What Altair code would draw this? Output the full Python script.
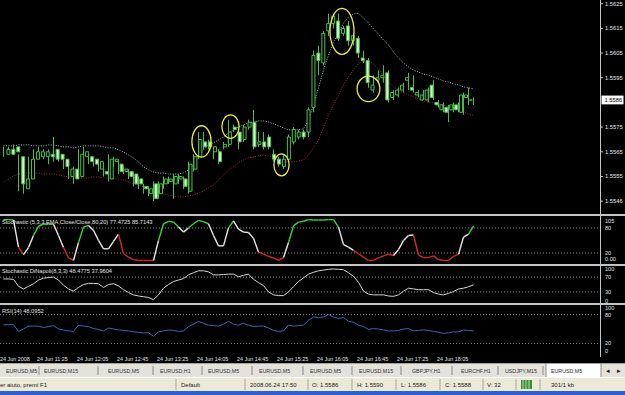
import altair as alt
import pandas as pd

# ---------------- data ----------------
OPEN = [
    1.5564, 1.5566, 1.5567, 1.5563, 1.5550, 1.5554, 1.5562, 1.5563, 1.5563, 1.5564,
    1.5566, 1.5564, 1.5562, 1.5555, 1.5558, 1.5555, 1.5563, 1.5563, 1.5562, 1.5558,
    1.5557, 1.5554, 1.5561, 1.5560, 1.5557, 1.5557, 1.5556, 1.5554, 1.5551, 1.5548,
    1.5552, 1.5548, 1.5552, 1.5553, 1.5552, 1.5554, 1.5554, 1.5549, 1.5558, 1.5563,
    1.5569, 1.5569, 1.5565, 1.5565, 1.5567, 1.5568, 1.5575, 1.5573, 1.5570, 1.5575,
    1.5577, 1.5568, 1.5569, 1.5571, 1.5564, 1.5562, 1.5559, 1.5562, 1.5569, 1.5571,
    1.5573, 1.5573, 1.5583, 1.5605, 1.5601, 1.5614, 1.5617, 1.5618, 1.5613, 1.5616,
    1.5610, 1.5611, 1.5603, 1.5602, 1.5590, 1.5594, 1.5595, 1.5597, 1.5587, 1.5588,
    1.5590, 1.5594, 1.5591, 1.5588, 1.5586, 1.5586, 1.5592, 1.5585, 1.5582, 1.5583,
    1.5582, 1.5584, 1.5581, 1.5587, 1.5586]
HIGH = [
    1.5567, 1.5567, 1.5568, 1.5564, 1.5555, 1.5563, 1.5566, 1.5567, 1.5566, 1.5566,
    1.5571, 1.5566, 1.5563, 1.5559, 1.5559, 1.5566, 1.5567, 1.5564, 1.5563, 1.5562,
    1.5558, 1.5564, 1.5563, 1.5562, 1.5559, 1.5558, 1.5557, 1.5555, 1.5552, 1.5551,
    1.5553, 1.5553, 1.5555, 1.5555, 1.5556, 1.5556, 1.5555, 1.5561, 1.5564, 1.5573,
    1.5573, 1.5570, 1.5567, 1.5566, 1.5569, 1.5578, 1.5576, 1.5574, 1.5576, 1.5578,
    1.5582, 1.5573, 1.5573, 1.5572, 1.5566, 1.5563, 1.5564, 1.5572, 1.5575, 1.5574,
    1.5574, 1.5583, 1.5606, 1.5608, 1.5614, 1.5621, 1.5621, 1.5621, 1.5616, 1.5618,
    1.5613, 1.5612, 1.5606, 1.5603, 1.5596, 1.5598, 1.5600, 1.5598, 1.5590, 1.5591,
    1.5593, 1.5597, 1.5596, 1.5590, 1.5590, 1.5591, 1.5594, 1.5586, 1.5585, 1.5584,
    1.5585, 1.5585, 1.5589, 1.5591, 1.5587]
LOW = [
    1.5563, 1.5564, 1.5564, 1.5549, 1.5548, 1.5553, 1.5561, 1.5562, 1.5562, 1.5560,
    1.5561, 1.5561, 1.5558, 1.5554, 1.5552, 1.5554, 1.5562, 1.5560, 1.5559, 1.5557,
    1.5555, 1.5553, 1.5559, 1.5556, 1.5556, 1.5554, 1.5551, 1.5550, 1.5548, 1.5547,
    1.5545, 1.5546, 1.5550, 1.5552, 1.5546, 1.5552, 1.5550, 1.5548, 1.5557, 1.5562,
    1.5566, 1.5566, 1.5562, 1.5560, 1.5566, 1.5567, 1.5573, 1.5566, 1.5569, 1.5574,
    1.5566, 1.5567, 1.5566, 1.5566, 1.5561, 1.5559, 1.5558, 1.5561, 1.5568, 1.5570,
    1.5570, 1.5571, 1.5581, 1.5596, 1.5600, 1.5612, 1.5615, 1.5610, 1.5612, 1.5608,
    1.5608, 1.5603, 1.5601, 1.5591, 1.5589, 1.5593, 1.5593, 1.5585, 1.5586, 1.5587,
    1.5589, 1.5590, 1.5589, 1.5587, 1.5586, 1.5585, 1.5586, 1.5583, 1.5581, 1.5577,
    1.5581, 1.5581, 1.5580, 1.5584, 1.5584]
CLOSE = [
    1.5566, 1.5564, 1.5565, 1.5552, 1.5554, 1.5562, 1.5565, 1.5565, 1.5565, 1.5563,
    1.5562, 1.5562, 1.5559, 1.5558, 1.5554, 1.5564, 1.5565, 1.5561, 1.5560, 1.5561,
    1.5556, 1.5562, 1.5562, 1.5557, 1.5558, 1.5555, 1.5552, 1.5552, 1.5550, 1.5550,
    1.5546, 1.5552, 1.5554, 1.5554, 1.5555, 1.5555, 1.5551, 1.5560, 1.5563, 1.5570,
    1.5567, 1.5567, 1.5567, 1.5561, 1.5568, 1.5573, 1.5574, 1.5569, 1.5575, 1.5577,
    1.5567, 1.5569, 1.5567, 1.5567, 1.5562, 1.5560, 1.5562, 1.5571, 1.5574, 1.5573,
    1.5571, 1.5582, 1.5604, 1.5602, 1.5613, 1.5617, 1.5620, 1.5611, 1.5615, 1.5610,
    1.5612, 1.5605, 1.5602, 1.5593, 1.5592, 1.5595, 1.5596, 1.5586, 1.5589, 1.5590,
    1.5592, 1.5595, 1.5590, 1.5589, 1.5588, 1.5590, 1.5587, 1.5584, 1.5584, 1.5581,
    1.5584, 1.5582, 1.5588, 1.5588, 1.5586]
UPPER = [
    1.55674, 1.55674, 1.55674, 1.55678, 1.55678, 1.55678, 1.55674, 1.55674, 1.55674, 1.55678,
    1.55678, 1.55674, 1.55670, 1.55670, 1.55666, 1.55670, 1.55674, 1.55674, 1.55674, 1.55674,
    1.55670, 1.55666, 1.55666, 1.55658, 1.55649, 1.55637, 1.55625, 1.55609, 1.55589, 1.55577,
    1.55568, 1.55564, 1.55564, 1.55560, 1.55560, 1.55560, 1.55564, 1.55577, 1.55597, 1.55637,
    1.55658, 1.55678, 1.55686, 1.55698, 1.55710, 1.55726, 1.55739, 1.55751, 1.55759, 1.55767,
    1.55771, 1.55775, 1.55775, 1.55771, 1.55763, 1.55755, 1.55747, 1.55739, 1.55739, 1.55739,
    1.55743, 1.55779, 1.55840, 1.55909, 1.55981, 1.56042, 1.56095, 1.56131, 1.56172, 1.56196,
    1.56208, 1.56212, 1.56192, 1.56172, 1.56148, 1.56127, 1.56103, 1.56083, 1.56054, 1.56030,
    1.56010, 1.55994, 1.55981, 1.55973, 1.55965, 1.55961, 1.55953, 1.55945, 1.55937, 1.55933,
    1.55925, 1.55921, 1.55913, 1.55909, 1.55905]
LOWER = [
    1.55528, 1.55540, 1.55552, 1.55560, 1.55564, 1.55564, 1.55564, 1.55564, 1.55560, 1.55560,
    1.55560, 1.55556, 1.55552, 1.55548, 1.55548, 1.55544, 1.55544, 1.55544, 1.55548, 1.55548,
    1.55544, 1.55544, 1.55540, 1.55540, 1.55536, 1.55528, 1.55520, 1.55516, 1.55508, 1.55496,
    1.55487, 1.55483, 1.55479, 1.55475, 1.55471, 1.55467, 1.55467, 1.55471, 1.55475, 1.55483,
    1.55491, 1.55504, 1.55516, 1.55536, 1.55556, 1.55577, 1.55589, 1.55605, 1.55617, 1.55625,
    1.55629, 1.55633, 1.55637, 1.55633, 1.55629, 1.55625, 1.55617, 1.55609, 1.55609, 1.55613,
    1.55617, 1.55637, 1.55666, 1.55698, 1.55747, 1.55799, 1.55840, 1.55880, 1.55921, 1.55953,
    1.55981, 1.56006, 1.56018, 1.56018, 1.56006, 1.55986, 1.55957, 1.55933, 1.55913, 1.55901,
    1.55888, 1.55880, 1.55872, 1.55864, 1.55856, 1.55852, 1.55848, 1.55844, 1.55840, 1.55832,
    1.55828, 1.55820, 1.55811, 1.55803, 1.55799]
STOCH = [
    100, 100, 99, 34, 16, 33, 62, 84, 89, 89,
    89, 62, 33, 8, 2, 45, 82, 86, 74, 50,
    30, 30, 48, 65, 18, 10, 4, 2, 2, 2,
    2, 50, 90, 96, 94, 82, 70, 80, 90, 98,
    95, 90, 62, 37, 37, 80, 97, 77, 70, 69,
    55, 22, 17, 12, 8, 2, 9, 45, 85, 94,
    96, 100, 99, 99, 99, 100, 100, 82, 40, 34,
    26, 18, 10, 2, 2, 8, 13, 17, 14, 28,
    50, 62, 63, 15, 9, 9, 13, 4, 2, 2,
    12, 17, 58, 65, 85]
DINAPOLI = [
    65, 65, 64, 45, 38, 45, 52, 62, 67, 69,
    70, 62, 48, 38, 32, 42, 50, 53, 53, 52,
    42, 50, 52, 46, 36, 28, 22, 19, 17, 15,
    9, 22, 40, 50, 58, 62, 66, 76, 82, 87,
    87, 84, 76, 76, 77, 78, 78, 71, 75, 78,
    64, 55, 47, 30, 22, 20, 20, 30, 44, 58,
    68, 78, 83, 87, 89, 91, 92, 91, 90, 82,
    72, 56, 32, 24, 22, 22, 22, 19, 18, 22,
    32, 40, 38, 36, 36, 36, 28, 24, 22, 26,
    31, 38, 40, 44, 49]
RSI = [
    59, 59, 59, 45, 50, 56, 56, 56, 53, 55,
    57, 50, 48, 46, 45, 58, 56, 55, 51, 49,
    46, 52, 50, 48, 47, 46, 44, 43, 42, 42,
    35, 44, 46, 48, 47, 45, 46, 55, 60, 66,
    62, 58, 57, 56, 60, 66, 60, 58, 62, 58,
    55, 56, 56, 52, 47, 45, 46, 58, 56, 57,
    58, 68, 75, 74, 75, 80, 75, 72, 74, 66,
    64, 58, 55, 49, 51, 50, 48, 46, 46, 47,
    50, 51, 46, 47, 48, 47, 45, 43, 41, 42,
    44, 44, 48, 47, 46]

TIME_BARS = [7, 15, 23, 31, 39, 47, 55, 63, 71, 79, 87]
TIME_LABELS = ["24 Jun 11:25", "24 Jun 12:05", "24 Jun 12:45", "24 Jun 13:25",
               "24 Jun 14:05", "24 Jun 14:45", "24 Jun 15:25", "24 Jun 16:05",
               "24 Jun 16:45", "24 Jun 17:25", "24 Jun 18:05"]
FIRST_LABEL = "24 Jun 2008"
PRICE_TICKS = [1.5625, 1.5615, 1.5605, 1.5595, 1.5575, 1.5565, 1.5555, 1.5545]
PRICE_TICK_LABELS = ["1.5625", "1.5615", "1.5605", "1.5595", "1.5575", "1.5565", "1.5555", "1.5546"]
LAST_PRICE = 1.5586
ELL_BAR = [39.6, 45.4, 55.6, 67.7, 73.0]
ELL_PRICE = [1.55692, 1.55752, 1.55597, 1.56138, 1.55905]

STO_TITLE = "Stochastic (5,3,3,EMA,Close/Close,80,20) 77.4725 85.7143"
DIN_TITLE = "Stochastic DiNapoli(8,3,3) 48.4775 37.9604"
RSI_TITLE = "RSI(14) 48.0952"

TAB_LABELS = ["EURUSD,M5", "EURUSD,M15", "EURUSD,M5", "EURUSD,H1", "EURUSD,M5", "EURUSD,M5",
              "EURUSD,M5", "EURUSD,M15", "GBPJPY,H1", "EURCHF,H1", "USDJPY,M15", "EURUSD,M5"]
STATUS_TEXTS = ["er aiuto, premi F1", "Default", "2008.06.24 17:50", "O: 1.5586", "H: 1.5590",
                "L: 1.5586", "C: 1.5588", "V: 32", "301/1 kb"]

# ---------------- layout / style ----------------
W, H = 625, 395
F = "Liberation Sans"
GREEN = "#4cc04c"
BEAR_FILL = "#d4efca"
TXT = "#e6e6e6"
ELL_RX = [9.6, 8.6, 7.6, 12.0, 11.4]
ELL_RY = [15.7, 11.7, 11.0, 23.0, 12.8]
TAB_X = [6, 44, 108, 160, 208, 259, 310, 359, 412, 461, 505, 551]
TAB_SEP = [39, 98, 153, 202, 252, 303, 352, 401, 452, 498, 543]
STATUS_X = [0, 181, 250, 312, 357, 401, 445, 487, 551]
STATUS_SEP = [176, 245, 308, 352, 396, 440, 483, 516, 540]

X = alt.Scale(domain=[-0.7, 124.3], range=[0, W], nice=False, zero=False)
PX = alt.Scale(domain=[0, W], range=[0, W], nice=False, zero=False)
PY = alt.Scale(domain=[0, H], range=[0, H], nice=False, zero=False)


def sc(dom, rng):
    return alt.Scale(domain=dom, range=rng, nice=False, zero=False)


Y_MAIN = sc([1.55402, 1.56265], [213, 0])
Y_STO = sc([0, 105], [261.3, 217.5])
Y_DIN = sc([0, 100], [303, 266])
Y_RSI = sc([0, 100], [353, 305])

layers = []


def px_rect(x0, x1, y0, y1, color):
    d = pd.DataFrame({"x0": [x0], "x1": [x1], "y0": [y0], "y1": [y1]})
    return alt.Chart(d).mark_rect(color=color).encode(
        x=alt.X("x0:Q", scale=PX, axis=None), x2="x1:Q",
        y=alt.Y("y0:Q", scale=PY, axis=None), y2="y1:Q")


def px_hlines(ys, x0, x1, color, width=1, dash=None):
    d = pd.DataFrame({"y": ys, "x0": x0, "x1": x1})
    kw = dict(color=color, strokeWidth=width)
    if dash:
        kw["strokeDash"] = dash
    return alt.Chart(d).mark_rule(**kw).encode(
        x=alt.X("x0:Q", scale=PX, axis=None), x2="x1:Q",
        y=alt.Y("y:Q", scale=PY, axis=None))


def px_vlines(xs, y0, y1, color, width=1):
    d = pd.DataFrame({"x": xs, "y0": y0, "y1": y1})
    return alt.Chart(d).mark_rule(color=color, strokeWidth=width).encode(
        x=alt.X("x:Q", scale=PX, axis=None),
        y=alt.Y("y0:Q", scale=PY, axis=None), y2="y1:Q")


def px_texts(texts, xs, y, size, color, align="left", font=F, weight="normal"):
    d = pd.DataFrame({"t": texts, "x": xs, "y": y})
    return alt.Chart(d).mark_text(align=align, baseline="middle", fontSize=size,
                                  color=color, font=font, fontWeight=weight).encode(
        x=alt.X("x:Q", scale=PX, axis=None),
        y=alt.Y("y:Q", scale=PY, axis=None), text="t:N")


# ---- bottom chrome ----
layers.append(px_rect(0, W, 363, 377, "#e4e2da"))
layers.append(px_rect(0, W, 377, 391, "#ece9d8"))
layers.append(px_rect(0, W, 391, H, "#2d5fcf"))
layers.append(px_rect(546, 601, 363, 377, "#ffffff"))
layers.append(px_hlines([363.5], 0, W, "#a0a0a0"))
layers.append(px_hlines([377.5], 0, W, "#ffffff"))
layers.append(px_vlines(TAB_SEP, 366, 375, "#8a8a8a"))
layers.append(px_vlines([546, 601], 363, 377, "#8a8a8a"))
layers.append(px_texts(TAB_LABELS, TAB_X, 370.5, 5.3, "#303030"))
layers.append(px_texts(["\u25c2", "\u25b8"], [606, 617], 370.5, 7, "#202020", font="DejaVu Sans"))
layers.append(px_vlines(STATUS_SEP, 379, 390, "#a8a595"))
layers.append(px_texts(STATUS_TEXTS, STATUS_X, 384.5, 6.0, "#202020"))
layers.append(px_rect(521, 532, 380, 389, "#3c8c3c"))
layers.append(px_vlines([523, 526, 529], 380, 389, "#b8e0a8"))

# ---- panel separators and axis line ----
layers.append(px_hlines([215, 265, 304], 0, W, "#c4c4c4", width=2))
layers.append(px_vlines([600.5], 0, 357, "#c8c8c8"))

# ---- main price panel ----
n = len(OPEN)
cd = pd.DataFrame({"i": range(n), "o": OPEN, "h": HIGH, "l": LOW, "c": CLOSE})
cd["top"] = cd[["o", "c"]].max(axis=1)
cd["bot"] = cd[["o", "c"]].min(axis=1)
cd["fill"] = ["#000000" if c >= o else BEAR_FILL for o, c in zip(cd.o, cd.c)]

bands = pd.DataFrame({"i": range(n), "up": UPPER, "lo": LOWER})
layers.append(alt.Chart(bands).mark_line(color="#a6c6d2", strokeWidth=1, strokeDash=[1, 1.5]).encode(
    x=alt.X("i:Q", scale=X, axis=None), y=alt.Y("up:Q", scale=Y_MAIN, axis=None)))
layers.append(alt.Chart(bands).mark_line(color="#b02a2a", strokeWidth=1, strokeDash=[1, 1.5]).encode(
    x=alt.X("i:Q", scale=X, axis=None), y=alt.Y("lo:Q", scale=Y_MAIN, axis=None)))

layers.append(alt.Chart(cd).mark_rule(color=GREEN, strokeWidth=1).encode(
    x=alt.X("i:Q", scale=X, axis=None), y=alt.Y("l:Q", scale=Y_MAIN, axis=None), y2="h:Q"))
layers.append(alt.Chart(cd).mark_bar(size=3, stroke=GREEN, strokeWidth=1).encode(
    x=alt.X("i:Q", scale=X, axis=None), y=alt.Y("top:Q", scale=Y_MAIN, axis=None), y2="bot:Q",
    fill=alt.Fill("fill:N", scale=None)))

ell = pd.DataFrame({"i": ELL_BAR, "p": ELL_PRICE})
ell["size"] = [4 * rx * rx for rx in ELL_RX]
ell["shape"] = ["M-1,0A1,{k:.3f} 0 1,0 1,0A1,{k:.3f} 0 1,0 -1,0Z".format(k=ry / rx)
                for rx, ry in zip(ELL_RX, ELL_RY)]
layers.append(alt.Chart(ell).mark_point(filled=False, stroke="#ecea3e", strokeWidth=1.3, opacity=1).encode(
    x=alt.X("i:Q", scale=X, axis=None), y=alt.Y("p:Q", scale=Y_MAIN, axis=None),
    size=alt.Size("size:Q", scale=None), shape=alt.Shape("shape:N", scale=None)))

pt = pd.DataFrame({"p": PRICE_TICKS, "t": PRICE_TICK_LABELS})
layers.append(alt.Chart(pt).mark_rule(color="#c8c8c8").encode(
    x=alt.value(600), x2=alt.value(603), y=alt.Y("p:Q", scale=Y_MAIN, axis=None)))
layers.append(alt.Chart(pt).mark_text(align="left", baseline="middle", fontSize=5.8, color=TXT, font=F).encode(
    x=alt.value(605), y=alt.Y("p:Q", scale=Y_MAIN, axis=None), text="t:N"))

lp = pd.DataFrame({"p": [LAST_PRICE], "t": [f"{LAST_PRICE:.4f}"]})
layers.append(alt.Chart(lp).mark_point(shape="M-1,-0.4H1V0.4H-1Z", filled=True, fill="#ffffff",
                                       size=484, opacity=1, strokeWidth=0).encode(
    x=alt.value(612.5), y=alt.Y("p:Q", scale=Y_MAIN, axis=None)))
layers.append(alt.Chart(lp).mark_text(align="left", baseline="middle", fontSize=5.8, color="#000000", font=F).encode(
    x=alt.value(604.5), y=alt.Y("p:Q", scale=Y_MAIN, axis=None), text="t:N"))


# ---- indicator panels ----
def panel(values, yscale, levels, mid_labels, top_label, bot_label, title, title_y,
          color=None, segmented=False, width=1.0):
    out = []
    lv = pd.DataFrame({"v": levels})
    out.append(alt.Chart(lv).mark_rule(color="#8c8c8c", strokeDash=[1, 2], strokeWidth=1).encode(
        x=alt.value(0), x2=alt.value(600), y=alt.Y("v:Q", scale=yscale, axis=None)))
    if segmented:
        seg = pd.DataFrame({"a": range(len(values) - 1), "b": range(1, len(values)),
                            "v0": values[:-1], "v1": values[1:]})
        seg["col"] = ["#3ad43a" if v > 80 else ("#d42a2a" if v < 20 else "#e8e8e8") for v in seg.v1]
        out.append(alt.Chart(seg).mark_rule(strokeWidth=width).encode(
            x=alt.X("a:Q", scale=X, axis=None), x2="b:Q",
            y=alt.Y("v0:Q", scale=yscale, axis=None), y2="v1:Q",
            color=alt.Color("col:N", scale=None)))
    else:
        d = pd.DataFrame({"i": range(len(values)), "v": values})
        out.append(alt.Chart(d).mark_line(color=color, strokeWidth=width).encode(
            x=alt.X("i:Q", scale=X, axis=None), y=alt.Y("v:Q", scale=yscale, axis=None)))
    ml = pd.DataFrame({"v": [m[0] for m in mid_labels], "t": [m[1] for m in mid_labels]})
    out.append(alt.Chart(ml).mark_text(align="left", baseline="middle", fontSize=5.6, color=TXT, font=F).encode(
        x=alt.value(605), y=alt.Y("v:Q", scale=yscale, axis=None), text="t:N"))
    tl = pd.DataFrame({"v": [top_label[0]], "t": [top_label[1]]})
    out.append(alt.Chart(tl).mark_text(align="left", baseline="top", dy=1, fontSize=5.6, color=TXT, font=F).encode(
        x=alt.value(605), y=alt.Y("v:Q", scale=yscale, axis=None), text="t:N"))
    bl = pd.DataFrame({"v": [bot_label[0]], "t": [bot_label[1]]})
    out.append(alt.Chart(bl).mark_text(align="left", baseline="bottom", dy=1, fontSize=5.6, color=TXT, font=F).encode(
        x=alt.value(605), y=alt.Y("v:Q", scale=yscale, axis=None), text="t:N"))
    out.append(px_texts([title], [2], title_y, 5.7, TXT))
    return out


layers += panel(STOCH, Y_STO, [80, 20], [(80, "80"), (20, "20")], (105, "105"), (0, "0.00"),
                STO_TITLE, 222.3, segmented=True, width=1.4)
layers += panel(DINAPOLI, Y_DIN, [70, 30], [(70, "70"), (30, "30")], (100, "100"), (0, "0"),
                DIN_TITLE, 270.7, color="#d6d6d6", width=1.0)
layers += panel(RSI, Y_RSI, [80, 20], [(80, "80"), (20, "20")], (100, "100"), (0, "0"),
                RSI_TITLE, 310.7, color="#3f64b4", width=1.0)

# ---- time axis ----
tl = pd.DataFrame({"i": TIME_BARS, "t": TIME_LABELS})
layers.append(alt.Chart(tl).mark_text(align="left", baseline="middle", dx=-1.5, fontSize=5.4,
                                      color=TXT, font=F).encode(
    x=alt.X("i:Q", scale=X, axis=None), y=alt.value(358.5), text="t:N"))
layers.append(px_texts([FIRST_LABEL], [0], 358.5, 5.4, TXT))

chart = alt.layer(*layers).resolve_scale(x="independent", y="independent").properties(
    width=W, height=H, padding=0, autosize="none", background="#000000"
).configure_view(stroke=None)

chart.save("out.html", embed_options={"renderer": "svg", "actions": False})
